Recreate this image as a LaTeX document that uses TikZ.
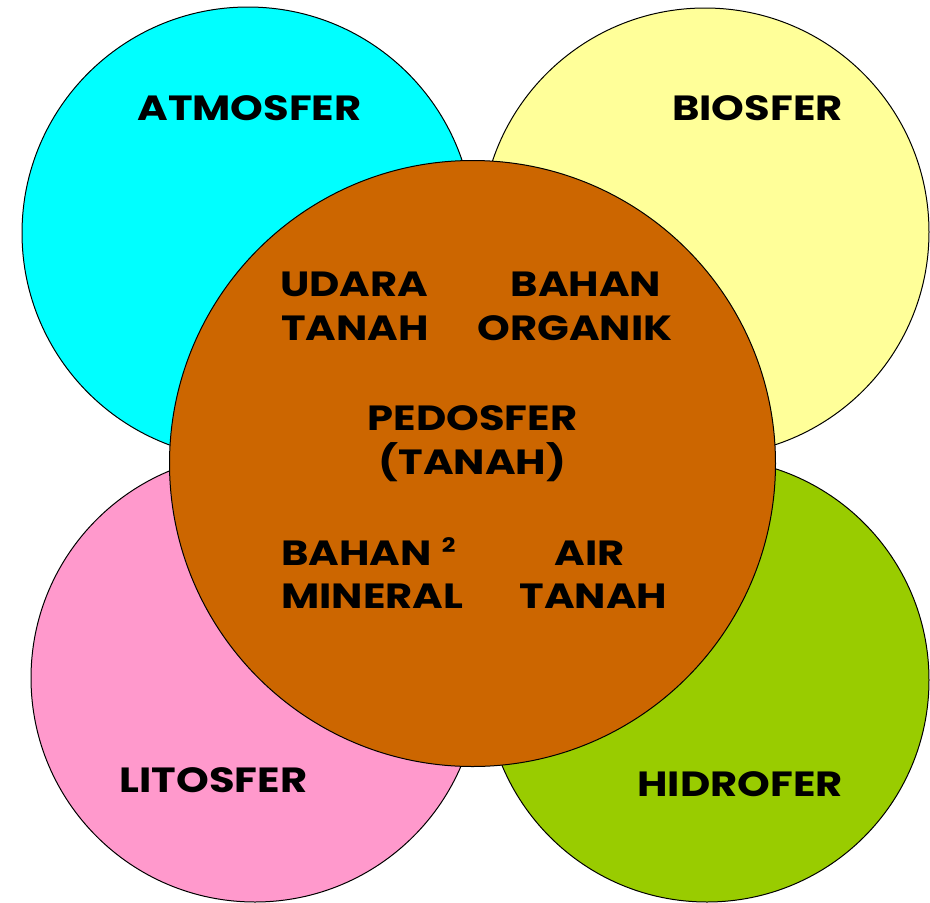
\documentclass[tikz,border=0pt]{standalone}
\usepackage{fontspec}
\setmainfont{Poppins}[FakeStretch=1.19]
\definecolor{atmcol}{HTML}{00FFFF}
\definecolor{biocol}{HTML}{FFFF99}
\definecolor{litcol}{HTML}{FF99CC}
\definecolor{hidcol}{HTML}{99CC00}
\definecolor{pedcol}{HTML}{CC6600}
\tikzset{
  sphere/.style={draw=black, line width=1pt},
  lbl/.style={inner sep=0pt, font=\fontsize{35}{35}\selectfont\bfseries, text=black},
}
\begin{document}
\begin{tikzpicture}[x=1pt,y=-1pt]
\useasboundingbox (0,0) rectangle (930,903);
\fill[white] (0,0) rectangle (930,903);
\draw[sphere, fill=atmcol] (248,233) circle[radius=226pt];
\draw[sphere, fill=biocol] (705,232) circle[radius=224pt];
\draw[sphere, fill=litcol] (255,678) circle[radius=224pt];
\draw[sphere, fill=hidcol] (707,680) circle[radius=222pt];
\draw[sphere, fill=pedcol] (472.5,463.5) circle[radius=303pt];

\node[lbl, anchor=base] (atm) at (249.5,120) {ATMOSFER};
\node[lbl, anchor=base] (bio) at (757.5,120) {BIOSFER};
\node[lbl, anchor=base] (lit) at (213.5,792) {LITOSFER};
\node[lbl, anchor=base] (hid) at (740,796) {HIDROFER};

\node[lbl, anchor=base west] (udara) at (280,296) {UDARA};
\node[lbl, anchor=base west] (tanahA) at (281,340) {TANAH};
\node[lbl, anchor=base] (bahanA) at (586,296) {BAHAN};
\node[lbl, anchor=base] (organik) at (575,340) {ORGANIK};
\node[lbl, anchor=base] (pedo) at (472.5,430) {PEDOSFER};
\node[lbl, anchor=base] (tanahP) at (472.5,474) {(TANAH)};
\node[lbl, anchor=base west] (bahanB) at (281,565) {BAHAN\hspace{10pt}\raisebox{13pt}{\fontsize{20}{20}\selectfont\bfseries 2}};
\node[lbl, anchor=base west] (mineral) at (281,608) {MINERAL};
\node[lbl, anchor=base] (air) at (590,565) {AIR};
\node[lbl, anchor=base] (tanahB) at (593.5,608) {TANAH};
\end{tikzpicture}
\end{document}
